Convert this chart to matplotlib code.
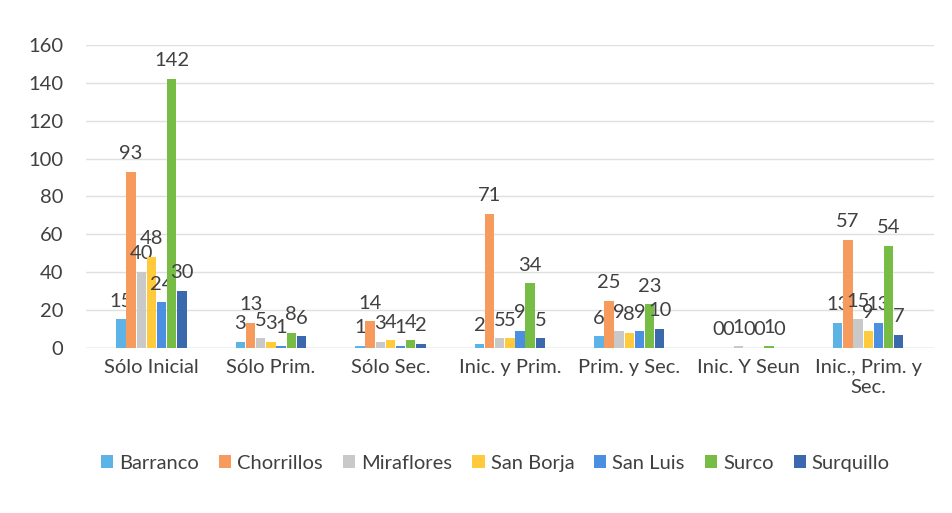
import numpy as np
import matplotlib.pyplot as plt

plt.rcParams['font.family'] = ['Lato', 'DejaVu Sans']

categories = ['Sólo Inicial', 'Sólo Prim.', 'Sólo Sec.', 'Inic. y Prim.',
              'Prim. y Sec.', 'Inic. Y Seun', 'Inic., Prim. y\nSec.']
districts = ['Barranco', 'Chorrillos', 'Miraflores', 'San Borja', 'San Luis', 'Surco', 'Surquillo']

barranco = [15, 3, 1, 2, 6, 0, 13]
chorrillos = [93, 13, 14, 71, 25, 0, 57]
miraflores = [40, 5, 3, 5, 9, 1, 15]
san_borja = [48, 3, 4, 5, 8, 0, 9]
san_luis = [24, 1, 1, 9, 9, 0, 13]
surco = [142, 8, 4, 34, 23, 1, 54]
surquillo = [30, 6, 2, 5, 10, 0, 7]

series = [barranco, chorrillos, miraflores, san_borja, san_luis, surco, surquillo]
colors = ['#5DB3E6', '#F79A5E', '#C9C9C9', '#FFCB3D', '#4A8FE0', '#77BD45', '#3A69AE']

fig = plt.figure(figsize=(9.53, 5.13), dpi=100)
ax = fig.add_axes([0.09, 0.322, 0.89, 0.59])

x = np.arange(len(categories))
w = 0.085
for i, (vals, c, name) in enumerate(zip(series, colors, districts)):
    pos = x + (i - 3) * w
    bars = ax.bar(pos, vals, w * 0.92, color=c, label=name, zorder=3)
    ax.bar_label(bars, labels=[str(v) for v in vals], padding=7,
                 fontsize=14.5, color='#404040')

ax.set_ylim(0, 160)
ax.set_xlim(-0.55, len(categories) - 0.45)
ax.set_yticks(range(0, 161, 20))
ax.set_xticks(x)
ax.set_xticklabels(categories, fontsize=14.5, color='#404040')
ax.tick_params(axis='y', labelsize=14.5, labelcolor='#404040', length=0, pad=16)
ax.tick_params(axis='x', length=0, pad=8)
ax.grid(axis='y', color='#E0E0E0', linewidth=1, zorder=0)
for s in ax.spines.values():
    s.set_visible(False)
ax.axhline(0, color='#D9D9D9', linewidth=1, zorder=2)

fig.legend(loc='lower center', bbox_to_anchor=(0.52, 0.045), ncol=7, frameon=False,
           fontsize=14.5, handlelength=0.6, handleheight=0.6, handletextpad=0.3,
           columnspacing=1.0, labelcolor='#404040')

fig.savefig('out.png', dpi=100)
